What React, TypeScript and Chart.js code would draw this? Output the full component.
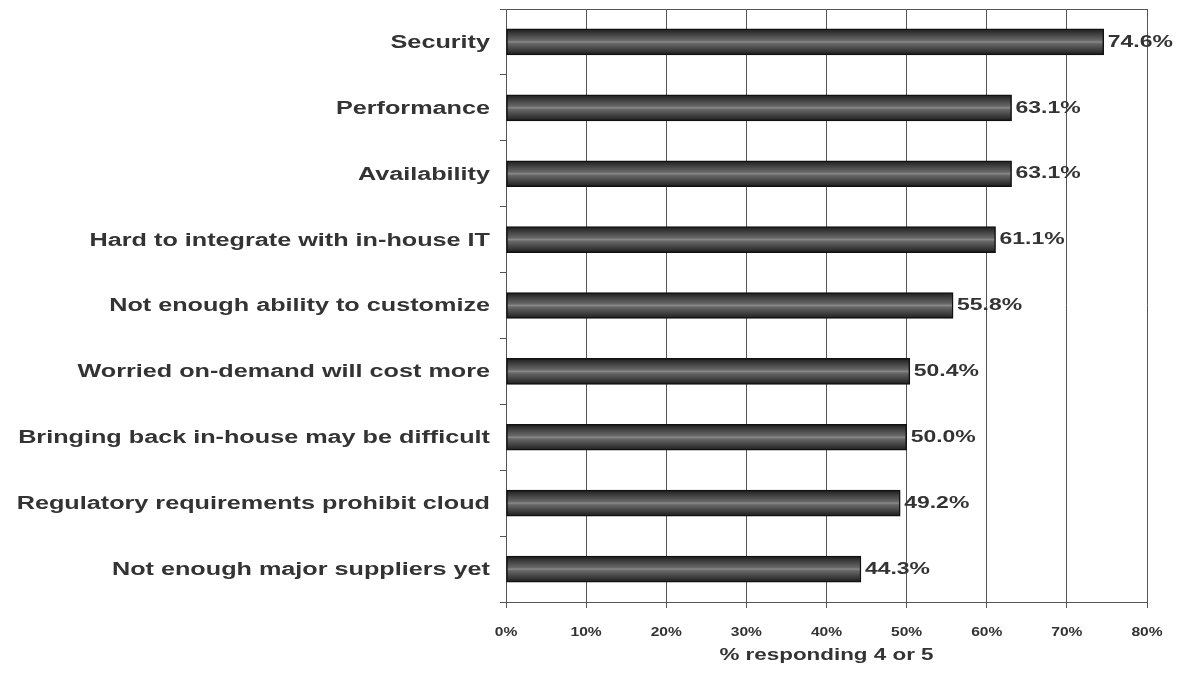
import React, { useEffect, useRef } from "react";
import { Chart, registerables } from "chart.js";

Chart.register(...registerables);

const categories = [
  "Security",
  "Performance",
  "Availability",
  "Hard to integrate with in-house IT",
  "Not enough ability to customize",
  "Worried on-demand will cost more",
  "Bringing back in-house may be difficult",
  "Regulatory requirements prohibit cloud",
  "Not enough major suppliers yet",
];
const values = [74.6, 63.1, 63.1, 61.1, 55.8, 50.4, 50.0, 49.2, 44.3];
const xTicks = [0, 10, 20, 30, 40, 50, 60, 70, 80];
const xTitle = "% responding 4 or 5";

const FONT = "'Liberation Sans', Arial, sans-serif";
const TEXT = "#333333";
const GRID = "#555555";
const BAR_THICK = 26;

function stretchText(
  ctx: CanvasRenderingContext2D,
  text: string,
  x: number,
  y: number,
  align: CanvasTextAlign,
  size: number,
  sx: number
) {
  ctx.save();
  ctx.translate(x, y);
  ctx.scale(sx, 1);
  ctx.font = `bold ${size}px ${FONT}`;
  ctx.fillStyle = TEXT;
  ctx.textAlign = align;
  ctx.textBaseline = "middle";
  ctx.fillText(text, 0, 0);
  ctx.restore();
}

const textPlugin = {
  id: "textPlugin",
  afterDraw(chart: any) {
    const ctx: CanvasRenderingContext2D = chart.ctx;
    const { left, right, top } = chart.chartArea;
    const xs = chart.scales.x;
    const ys = chart.scales.y;
    ctx.save();
    ctx.strokeStyle = GRID;
    ctx.lineWidth = 1;
    ctx.beginPath();
    ctx.moveTo(left, top + 0.5);
    ctx.lineTo(right, top + 0.5);
    ctx.stroke();
    ctx.restore();
    categories.forEach((c, i) => {
      stretchText(ctx, c, left - 16, ys.getPixelForValue(i) + 1, "right", 18, 1.4);
    });
    const meta = chart.getDatasetMeta(0);
    meta.data.forEach((bar: any, i: number) => {
      stretchText(ctx, values[i].toFixed(1) + "%", bar.x + 4, bar.y, "left", 17, 1.35);
    });
    xTicks.forEach((t) => {
      stretchText(ctx, t + "%", xs.getPixelForValue(t), 632, "center", 13, 1.2);
    });
    stretchText(ctx, xTitle, (left + right) / 2, 656, "center", 16, 1.4);
  },
};

export default function App() {
  const ref = useRef<HTMLCanvasElement>(null);
  useEffect(() => {
    document.body.style.margin = "0";
    const canvas = ref.current!;
    const chart = new Chart(canvas, {
      type: "bar",
      data: {
        labels: categories,
        datasets: [
          {
            data: values,
            barThickness: BAR_THICK,
            borderColor: "#111111",
            borderWidth: 1.5,
            borderSkipped: false,
            backgroundColor: (context: any) => {
              const ch = context.chart;
              const ys = ch.scales && ch.scales.y;
              if (!ys || !ch.chartArea) return "#444444";
              const yc = ys.getPixelForValue(context.dataIndex);
              const g = ch.ctx.createLinearGradient(0, yc - BAR_THICK / 2, 0, yc + BAR_THICK / 2);
              g.addColorStop(0, "#1c1c1c");
              g.addColorStop(0.18, "#3c3c3c");
              g.addColorStop(0.44, "#686868");
              g.addColorStop(0.5, "#8a8a8a");
              g.addColorStop(0.56, "#686868");
              g.addColorStop(0.82, "#3c3c3c");
              g.addColorStop(1, "#1c1c1c");
              return g;
            },
          },
        ],
      },
      options: {
        indexAxis: "y",
        responsive: false,
        animation: false,
        devicePixelRatio: 1,
        layout: { padding: { left: 0, top: 9, right: 33, bottom: 0 } },
        plugins: { legend: { display: false }, tooltip: { enabled: false } },
        scales: {
          x: {
            type: "linear",
            min: 0,
            max: 80,
            ticks: { stepSize: 10, display: false },
            grid: { color: GRID, lineWidth: 1, tickLength: 6, drawTicks: true },
            border: { display: true, color: GRID, width: 1 },
            afterFit: (s: any) => {
              s.height = 78;
            },
          },
          y: {
            type: "category",
            ticks: { display: false },
            grid: { display: true, drawOnChartArea: false, offset: true, color: GRID, tickLength: 6 },
            border: { display: true, color: GRID, width: 1 },
            afterFit: (s: any) => {
              s.width = 506;
            },
          },
        },
      } as any,
      plugins: [textPlugin],
    });
    return () => chart.destroy();
  }, []);
  return (
    <div style={{ width: 1180, height: 680, background: "#ffffff" }}>
      <canvas ref={ref} width={1180} height={680} style={{ display: "block" }} />
    </div>
  );
}
